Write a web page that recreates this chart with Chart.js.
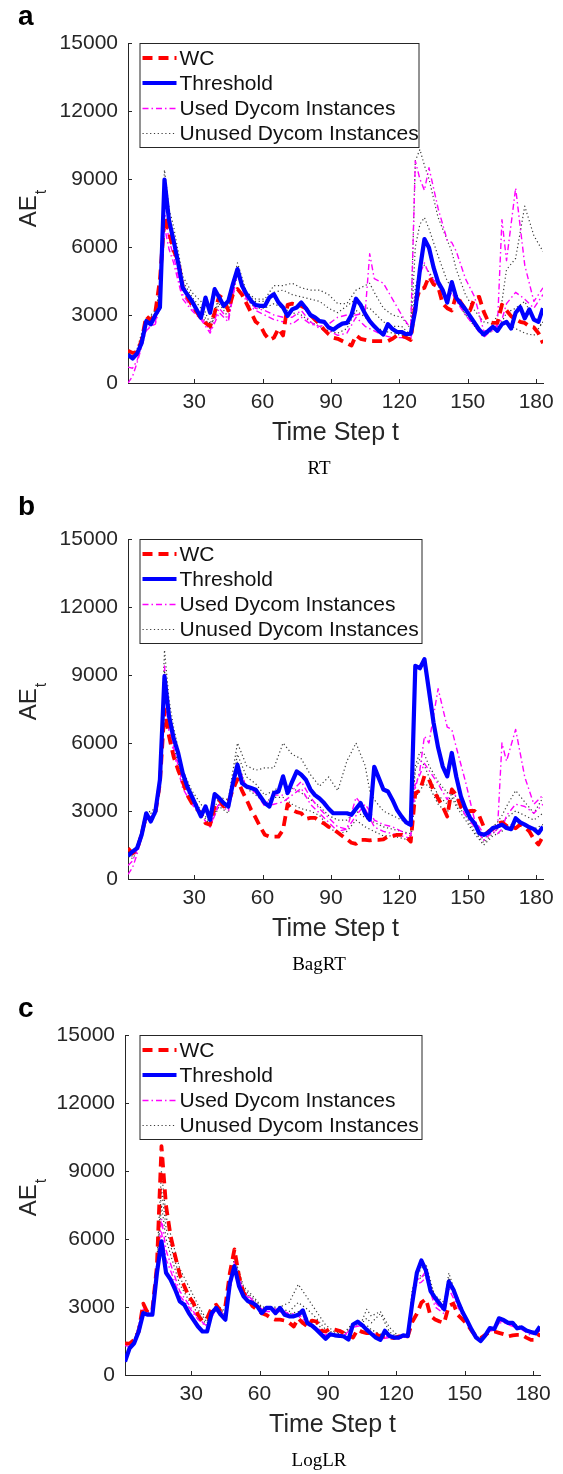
<!DOCTYPE html>
<html>
<head>
<meta charset="utf-8">
<script src="https://cdn.jsdelivr.net/npm/chart.js@4.4.1/dist/chart.umd.min.js"></script>
<style>
  html, body { margin: 0; padding: 0; background: #fff; }
  body { width: 563px; height: 1474px; position: relative; overflow: hidden; }
  canvas { position: absolute; left: 0; }
</style>
</head>
<body>
<canvas id="rtChart" width="563" height="496" style="top:0px"></canvas>
<canvas id="bagChart" width="563" height="496" style="top:496px"></canvas>
<canvas id="logChart" width="563" height="482" style="top:992px"></canvas>
<script>
// time steps for the WC / Threshold curves
const steps = [1,3,5,7,9,11,13,15,17,19,21,23,25,27,29,31,33,35,37,39,41,43,45,47,49,51,53,55,57,59,61,63,65,67,69,71,73,75,77,79,81,83,85,87,89,91,93,95,97,99,101,103,105,107,109,111,113,115,117,119,121,123,125,127,129,131,133,135,137,139,141,143,145,147,149,151,153,155,157,159,161,163,165,167,169,171,173,175,177,179,181,183];
// time steps for the Dycom instance curves
const instSteps = [1,3,5,9,13,15,17,19,21,25,29,33,37,41,45,49,53,57,61,65,69,73,77,81,85,89,93,97,101,105,107,109,113,117,121,125,127,129,131,133,137,141,143,145,149,153,157,161,163,165,167,171,175,179,183];

const xTicks = [30, 60, 90, 120, 150, 180];
const yTicks = [0, 3000, 6000, 9000, 12000, 15000];
const legendLabels = ['WC', 'Threshold', 'Used Dycom Instances', 'Unused Dycom Instances'];

// (a) RT
const rtWC = [1430,1330,1350,1900,2950,2750,3150,4550,7300,6650,5850,5400,4250,3800,3450,3150,2850,2650,2500,3100,3850,3700,3200,3900,4150,3900,3500,3100,2700,2550,2150,1900,2000,2400,2100,3450,3500,3450,3400,3300,3000,2800,2600,2350,2150,2000,1950,1850,1750,1650,2100,1950,1900,1850,1850,1850,1850,1850,1950,2100,2100,2000,1900,3500,4150,4200,4700,4350,4250,3500,3300,3200,3900,3550,3250,3200,3750,3800,3150,2700,2650,2650,3450,3200,2950,2800,2700,2650,2500,2450,2200,1750];
const rtThreshold = [1250,1080,1300,1770,2730,2590,3000,3330,8970,7170,6280,5300,4210,3900,3620,3250,2880,3770,3100,4140,3770,3400,3620,4360,5025,4290,3920,3620,3440,3400,3400,3770,3920,3550,3330,2960,3250,3330,3550,3300,3000,2900,2730,2700,2450,2350,2500,2620,2650,3000,3720,3450,3050,2730,2500,2300,2140,2600,2380,2250,2250,2150,2180,3200,5000,6350,5970,5100,4450,4100,3550,4450,3750,3500,3250,2950,2650,2350,2140,2300,2480,2300,2600,2700,2400,3100,3350,2850,3250,2800,2700,3300];
const rtUsed1 = [0,300,900,2300,2700,3600,7600,6300,5600,3900,3300,2900,2300,3300,2800,5100,3700,3300,3200,3000,2900,2900,3200,2700,2400,2300,2100,2200,2900,2500,2400,2300,2100,2000,2000,1900,3800,4800,5300,4800,4300,3600,4000,3600,3000,2500,2000,2400,2500,7200,5400,8600,5200,3600,4200];
const rtUsed2 = [700,650,1000,2400,2600,3400,6900,5900,5300,3700,3200,2800,2200,3100,2700,4900,3500,3200,3000,2800,2700,2600,2900,2600,2500,2600,2900,3000,3000,3100,5700,4600,4400,3700,3000,2400,9800,9000,8500,9500,7700,6300,6200,5800,4600,3800,2300,2300,2600,2800,3500,4000,3700,3300,3900];
const rtUnused1 = [1400,1300,1500,2900,3000,4400,9400,7700,6900,4700,4000,3600,2600,3800,3300,5300,4000,3700,3700,4300,4300,4400,4200,4100,4100,3900,3500,3500,4100,4300,4400,4000,3300,3000,2900,2400,9800,10300,9600,9000,7300,6300,5800,5000,3900,3200,2700,2600,3000,3600,5000,5500,7800,6500,5800];
const rtUnused2 = [1200,1100,1400,2800,3200,4000,8500,7300,6400,4500,3800,3300,2400,3700,3100,5000,3900,3600,3600,4000,4100,3900,3800,3700,3600,3300,3100,3400,3700,3300,3300,3100,2700,2500,2500,2100,6000,7000,7300,6800,5600,4500,4200,3700,3000,2600,2100,2300,2600,2700,3100,3300,3600,2800,2500];
const rtUnused3 = [1300,1200,1300,2600,2900,3700,8800,7000,6000,4300,3500,3000,2400,3500,2900,4800,3700,3300,3300,3500,3300,3100,3000,2700,2500,2300,2200,2400,3200,2900,2700,2500,2300,2200,2100,2000,4200,5000,5200,4900,4300,3600,4200,3700,3000,2500,2200,2400,2500,2600,2700,2400,2200,2100,2700];

// (b) BagRT
const bagWC = [1360,1130,1300,2000,2800,2600,2900,4230,7470,6290,5400,4800,4300,3700,3350,3100,2900,2460,2390,3200,3490,3200,3400,3940,4400,3900,3500,3050,2700,2300,1950,1870,1870,1870,2170,3300,3050,2950,2900,2650,2700,2700,2550,2450,2300,2200,2050,1900,1750,1600,1550,1730,1730,1700,1730,1730,1750,1880,1880,1950,1950,1850,1650,3790,3900,4550,4400,3900,3550,3200,2760,3950,3700,3200,2950,3000,3000,2800,2310,2090,2200,2450,2500,2350,2300,2240,2400,2300,2100,1750,1520,1880];
const bagThreshold = [1020,1210,1360,1950,2900,2540,2980,4380,8950,7180,6220,5560,4670,4080,3640,3200,2760,3200,2610,3750,3570,3350,3200,4230,5040,4230,4080,4010,3940,3640,3350,3200,3790,3860,4530,3790,4300,4750,4600,4380,3950,3700,3550,3350,3100,2900,2900,2900,2900,2830,3100,3350,2900,2610,4950,4450,3950,3860,3490,3050,2750,2500,2390,9400,9300,9700,8300,6900,5800,4970,4530,5560,4500,3640,3100,2700,2460,2020,1950,2050,2250,2310,2400,2250,2200,2680,2500,2400,2280,2200,2020,2310];
const bagUsed1 = [200,500,1100,2600,2900,4300,9400,6900,5800,4200,3500,2800,2300,3400,3200,5000,4100,3900,3300,3700,3700,3900,4300,3600,3100,2700,2300,2200,2800,3300,3000,2600,2400,2300,2100,1900,4000,4800,6300,6000,8400,6700,6600,5800,4300,2600,2000,2200,2100,6000,5200,6600,4500,3300,3700];
const bagUsed2 = [600,800,1300,2700,2800,4000,8200,6500,5600,4000,3300,2800,2300,3300,3000,4800,4100,3800,3200,3300,3400,3700,4000,3300,2900,2500,2100,2200,3600,3100,2700,2300,2100,2000,1900,1800,4200,4600,5100,4800,4200,3500,4000,3600,2800,2300,1700,2100,2000,2200,2800,3300,3200,2900,3300];
const bagUnused1 = [1300,1200,1500,2900,3100,4500,10100,7900,6700,4800,3900,3300,2700,3600,3500,6000,5000,4800,4900,4900,6000,5500,5300,4600,4100,4500,3900,5200,6000,5000,3900,3500,3000,2800,2600,2300,5000,5600,5500,5000,4300,3800,3900,3600,3000,2400,1700,2300,2500,2800,3200,3900,3400,2900,3600];
const bagUnused2 = [1100,1000,1300,2800,3000,4200,9200,7300,6300,4500,3700,3000,2500,3300,3100,5500,4500,4200,3700,3900,4200,4000,3800,3500,3200,2800,2600,2600,3000,2700,2600,2500,2300,2200,2100,2000,4800,5300,5000,4500,3700,3300,3800,3300,2800,2100,1600,2000,2200,2500,2700,3000,2800,2600,2900];
const bagUnused3 = [1000,900,1200,2600,2800,3900,8600,6800,5900,4300,3500,2900,2400,3200,2900,5200,4000,3700,3400,3600,3600,3300,3100,3000,2800,2300,2000,2100,2600,2300,2200,2100,1900,1900,1800,1700,3600,3900,4200,4100,3300,2900,3600,3200,2600,2000,1500,1900,2000,2100,2300,2500,2400,2200,2400];

// (c) LogLR
const logWC = [1400,1380,1550,1920,3150,2730,2880,4800,10100,7460,6130,5250,4430,3920,3470,3180,2660,2360,2500,2960,3100,2810,3030,4510,5540,4360,3620,3330,3030,2880,2730,2650,2520,2440,2440,2400,2300,2140,2500,2290,2140,2400,2360,1950,1920,2050,2000,1950,1850,1770,1650,2000,1900,1850,1850,1800,1700,1700,1650,1630,1700,1700,1700,2350,2700,3200,3350,2600,2450,2360,2300,3050,3150,2650,2450,2250,1950,1700,1630,1770,1900,1920,1860,1800,1700,1750,1770,1770,1650,1550,1550,1840];
const logThreshold = [590,1180,1400,1920,2730,2660,2660,4500,5900,4510,4210,3770,3250,3100,2730,2440,2140,1920,1920,2730,2960,2660,2440,4060,4800,3920,3470,3250,3180,3030,2730,2960,2960,2730,2960,2660,2590,2590,2660,2850,2290,2180,2000,1800,1600,1800,1750,1730,1700,1560,2230,2350,2200,2000,1820,1650,1550,1950,1720,1650,1650,1750,1720,3200,4510,5050,4600,3700,3400,3150,2900,4120,3770,3250,2780,2400,2000,1650,1500,1750,2070,2030,2500,2430,2300,2300,2060,2100,1960,1900,1840,2140];
const logUsed1 = [600,1150,1400,2750,2700,4600,6900,5500,4900,3700,3100,2500,2150,3000,2600,5000,3700,3300,2900,2900,2900,2700,2700,2300,2100,1800,1800,1750,2100,2200,2000,1900,1650,1700,1650,1700,3500,4200,4300,4600,3200,2800,4000,3600,2700,1950,1500,2000,2000,2400,2350,2200,2100,1800,1950];
const logUsed2 = [1300,1250,1450,2900,2750,4700,6300,5100,4600,3500,3000,2450,2100,2950,2550,4900,3600,3250,2800,2800,2800,2600,2600,2200,2050,1750,1750,1700,2150,2150,1950,1850,1600,1650,1600,1700,3300,4000,4100,4300,3000,2700,3800,3400,2600,1900,1500,1950,1950,2300,2300,2150,2000,1750,1900];
const logUnused1 = [1300,1250,1500,2900,2800,5000,9000,7000,6200,4700,3900,3100,2400,3100,2800,5200,3900,3500,3000,3000,3000,3200,4000,3400,2800,2200,1900,1850,2300,2400,2900,2600,2800,2100,1700,1750,3800,4300,4400,4400,3500,3200,4500,3900,2900,2000,1550,2050,2050,2400,2400,2300,2100,1900,2000];
const logUnused2 = [900,1200,1450,2850,2700,4800,8200,6500,5700,4300,3600,2900,2300,3050,2700,5000,3800,3400,2950,2950,2950,2800,3200,2900,2500,2000,1850,1800,2250,2300,2500,2300,2700,1900,1650,1700,3600,4200,4300,4500,3300,3000,4300,3800,2800,1950,1500,2000,2000,2350,2350,2250,2050,1850,2000];
const logUnused3 = [700,1180,1400,2750,2650,4600,7500,6000,5300,4000,3300,2700,2200,3000,2600,4900,3700,3300,2900,2900,2900,2700,2800,2500,2300,1850,1800,1700,2200,2200,2200,2000,1800,1750,1650,1700,3500,4400,4700,4900,3400,3000,4100,3700,2700,1950,1500,2000,2000,2450,2400,2250,2050,1850,1950];

const ink = '#262626';
const sans = '"Liberation Sans", Arial, Helvetica, sans-serif';
const serif = '"Liberation Serif", "DejaVu Serif", serif';

const styles = {
  wc:     { color: '#ff0000', width: 3.8, dash: [10, 6] },
  thr:    { color: '#0000ff', width: 4.2, dash: [] },
  used:   { color: '#ff00ff', width: 1.4, dash: [6, 3, 1.5, 3] },
  unused: { color: '#3a3a3a', width: 1.2, dash: [1.2, 2.6] }
};

function toPoints(ts, vs) {
  return vs.map((v, i) => ({ x: ts[i], y: v }));
}

function line(label, ts, vs, st, order) {
  return {
    label: label,
    data: toPoints(ts, vs),
    borderColor: st.color,
    borderWidth: st.width,
    borderDash: st.dash,
    borderJoinStyle: 'round',
    pointRadius: 0,
    tension: 0,
    fill: false,
    order: order
  };
}

// ticks inside the box, legend, panel letter, caption and y title
const decor = {
  id: 'decor',
  afterDraw(chart, args, o) {
    const { ctx, chartArea: ca, scales: { x, y } } = chart;
    ctx.save();
    ctx.strokeStyle = ink;
    ctx.lineWidth = 1;
    ctx.setLineDash([]);
    ctx.beginPath();
    xTicks.forEach(v => {
      const p = Math.round(x.getPixelForValue(v)) + 0.5;
      ctx.moveTo(p, ca.bottom); ctx.lineTo(p, ca.bottom - 4);
    });
    yTicks.forEach(v => {
      const p = Math.round(y.getPixelForValue(v)) + 0.5;
      ctx.moveTo(ca.left, p); ctx.lineTo(ca.left + 4, p);
    });
    ctx.stroke();

    // legend box
    const lx = 139.5, ly = ca.top, lw = o.legendW, lh = 104;
    ctx.fillStyle = '#fff';
    ctx.fillRect(lx, ly, lw, lh);
    ctx.strokeStyle = ink;
    ctx.strokeRect(lx + 0.5, ly + 0.5, lw, lh);
    const rows = [15, 40, 65.5, 90.5];
    const keys = ['wc', 'thr', 'used', 'unused'];
    ctx.font = '21px ' + sans;
    ctx.textBaseline = 'middle';
    ctx.textAlign = 'left';
    legendLabels.forEach((lab, i) => {
      const st = styles[keys[i]];
      const ry = ly + rows[i];
      ctx.save();
      ctx.strokeStyle = st.color;
      ctx.lineWidth = st.width;
      ctx.setLineDash(st.dash);
      ctx.beginPath();
      ctx.moveTo(lx + 3, ry); ctx.lineTo(lx + 37, ry);
      ctx.stroke();
      ctx.restore();
      ctx.fillStyle = '#111';
      ctx.fillText(lab, lx + 40, ry + 1);
    });

    // panel letter
    ctx.fillStyle = '#000';
    ctx.font = 'bold 28px ' + sans;
    ctx.textBaseline = 'alphabetic';
    ctx.fillText(o.letter, 18, o.letterY);

    // caption
    ctx.font = '19px ' + serif;
    ctx.textAlign = 'center';
    ctx.textBaseline = 'middle';
    ctx.fillText(o.caption, 319, 469);

    // y title AE with subscript t
    ctx.fillStyle = ink;
    ctx.textAlign = 'left';
    ctx.textBaseline = 'alphabetic';
    ctx.translate(36, o.titleY);
    ctx.rotate(-Math.PI / 2);
    ctx.font = '24px ' + sans;
    const wMain = ctx.measureText('AE').width;
    ctx.font = '16px ' + sans;
    const wSub = ctx.measureText('t').width;
    const start = -(wMain + wSub) / 2;
    ctx.font = '24px ' + sans;
    ctx.fillText('AE', start, 0);
    ctx.font = '16px ' + sans;
    ctx.fillText('t', start + wMain + 1, 10);
    ctx.restore();
  }
};

function makePanel(id, p) {
  const canvas = document.getElementById(id);
  const H = canvas.height;
  const datasets = [
    line('Threshold', steps, p.thr, styles.thr, 0),
    line('WC', steps, p.wc, styles.wc, 1),
    line('Used Dycom Instances', instSteps, p.used[0], styles.used, 2),
    line('Used Dycom Instances', instSteps, p.used[1], styles.used, 2),
    line('Unused Dycom Instances', instSteps, p.unused[0], styles.unused, 3),
    line('Unused Dycom Instances', instSteps, p.unused[1], styles.unused, 3),
    line('Unused Dycom Instances', instSteps, p.unused[2], styles.unused, 3)
  ];
  return new Chart(canvas, {
    type: 'line',
    data: { datasets: datasets },
    options: {
      responsive: false,
      animation: false,
      devicePixelRatio: 1,
      events: [],
      layout: { padding: { left: 0, top: 43, right: 563 - p.right, bottom: H - 383 - 65 } },
      plugins: {
        legend: { display: false },
        tooltip: { enabled: false },
        decor: { letter: p.letter, letterY: p.letterY, caption: p.caption, legendW: p.legendW, titleY: p.titleY }
      },
      scales: {
        x: {
          type: 'linear',
          min: 1,
          max: 183,
          grid: { display: false, drawTicks: false },
          border: { color: ink, width: 1 },
          afterBuildTicks: s => { s.ticks = xTicks.map(v => ({ value: v })); },
          afterFit: s => { s.height = 65; },
          ticks: { color: ink, padding: 7, font: { family: sans, size: 21 }, callback: v => String(v) },
          title: { display: true, text: 'Time Step t', color: ink, font: { family: sans, size: 25 }, padding: { top: 0, bottom: 0 } }
        },
        y: {
          min: 0,
          max: 15000,
          grid: { display: false, drawTicks: false },
          border: { color: ink, width: 1 },
          afterBuildTicks: s => { s.ticks = yTicks.map(v => ({ value: v })); },
          afterFit: s => { s.width = p.left; },
          ticks: { color: ink, padding: 10, font: { family: sans, size: 21 }, callback: v => String(v) }
        }
      }
    },
    plugins: [decor]
  });
}

makePanel('rtChart', {
  letter: 'a', letterY: 25, caption: 'RT', left: 128, right: 543, legendW: 279, titleY: 209,
  wc: rtWC, thr: rtThreshold, used: [rtUsed1, rtUsed2], unused: [rtUnused1, rtUnused2, rtUnused3]
});
makePanel('bagChart', {
  letter: 'b', letterY: 19, caption: 'BagRT', left: 128, right: 543, legendW: 282, titleY: 206,
  wc: bagWC, thr: bagThreshold, used: [bagUsed1, bagUsed2], unused: [bagUnused1, bagUnused2, bagUnused3]
});
makePanel('logChart', {
  letter: 'c', letterY: 25, caption: 'LogLR', left: 125, right: 540, legendW: 282, titleY: 206,
  wc: logWC, thr: logThreshold, used: [logUsed1, logUsed2], unused: [logUnused1, logUnused2, logUnused3]
});
</script>
</body>
</html>
